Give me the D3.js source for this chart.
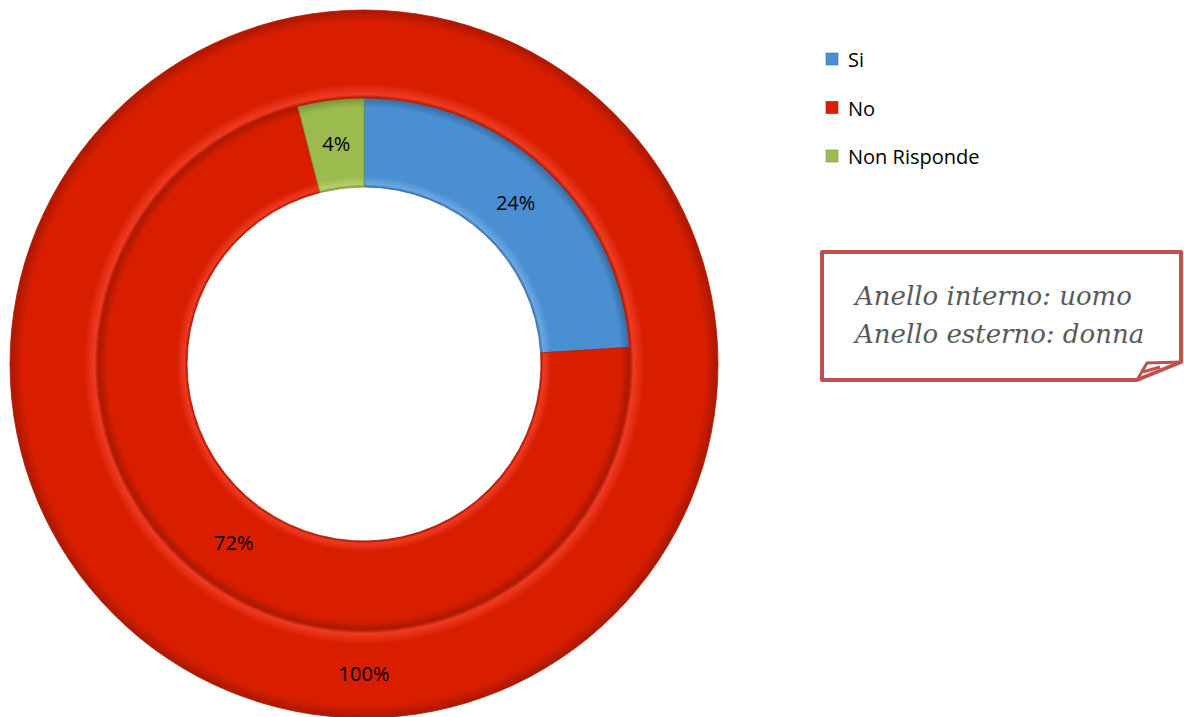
<!DOCTYPE html>
<html><head><meta charset="utf-8">
<script src="https://cdn.jsdelivr.net/npm/d3@7"></script>
<style>html,body{margin:0;padding:0;background:#fff;}svg{display:block;}</style>
</head><body>
<svg id="chart" width="1184" height="717"></svg>
<script>
const categories = ["Si", "No", "Non Risponde"];
const innerValues = [24, 72, 4];   // uomo
const outerValues = [0, 100, 0];   // donna
const colors = ["#4a8fd2", "#d91e00", "#9bbb4e"];
const darkColors = ["#3a70a8", "#b01800", "#7d983e"];
const lightColors = ["#6aa8e2", "#ee3b24", "#b6d06c"];
const noteLines = ["Anello interno: uomo", "Anello esterno: donna"];

const svg = d3.select("#chart");
const cx = 364, cy = 364;
const rings = [
  {values: innerValues, r0: 177, r1: 266, name: "in"},
  {values: outerValues, r0: 266, r1: 354, name: "out"}
];
const defs = svg.append("defs");
rings.forEach(rg => {
  colors.forEach((c, i) => {
    const g = defs.append("radialGradient").attr("id", `g-${rg.name}-${i}`)
      .attr("gradientUnits", "userSpaceOnUse").attr("cx", 0).attr("cy", 0).attr("r", rg.r1);
    const a = rg.r0 / rg.r1;
    const stops = [[0, darkColors[i]], [a, darkColors[i]], [a + 0.01, lightColors[i]], [a + 0.04, c], [0.965, c], [0.995, darkColors[i]], [1, darkColors[i]]];
    stops.forEach(s => g.append("stop").attr("offset", s[0]).attr("stop-color", s[1]));
  });
});

const pie = d3.pie().sort(null).value(d => d);
const g = svg.append("g").attr("transform", `translate(${cx},${cy})`);
rings.forEach(rg => {
  const arc = d3.arc().innerRadius(rg.r0).outerRadius(rg.r1);
  const arcs = pie(rg.values);
  g.selectAll(null).data(arcs.filter(d => d.value > 0)).enter().append("path")
    .attr("d", arc)
    .attr("fill", d => `url(#g-${rg.name}-${d.index})`)
    .attr("stroke", d => darkColors[d.index]).attr("stroke-width", 0.8);
});
rings.forEach(rg => {
  const arc = d3.arc().innerRadius(rg.r0).outerRadius(rg.r1);
  const arcs = pie(rg.values);
  const total = d3.sum(rg.values);
  g.selectAll(null).data(arcs.filter(d => d.value > 0)).enter().append("text")
    .attr("transform", d => `translate(${arc.centroid(d)})`)
    .attr("text-anchor", "middle").attr("dy", "0.35em")
    .attr("font-family", "Open Sans, sans-serif").attr("font-size", 20)
    .attr("fill", "#000")
    .text(d => Math.round(d.value / total * 100) + "%");
});

// Legend
const legend = svg.append("g").attr("transform", "translate(826,60)");
categories.forEach((c, i) => {
  const row = legend.append("g").attr("transform", `translate(0,${i * 48.5})`);
  row.append("rect").attr("x", 0).attr("y", -7).attr("width", 12).attr("height", 12)
    .attr("fill", colors[i]).attr("stroke", darkColors[i]).attr("stroke-width", 0.6);
  row.append("text").attr("x", 22).attr("y", 0).attr("dy", "0.35em")
    .attr("font-family", "Open Sans, sans-serif").attr("font-size", 20).attr("fill", "#000")
    .text(c);
});

// Callout
const note = svg.append("g");
note.append("path").attr("d", "M822,252 H1181 V362 L1137,380 H822 Z")
  .attr("fill", "#fff").attr("stroke", "#c0504d").attr("stroke-width", 4).attr("stroke-linejoin", "round");
note.append("path").attr("d", "M1137,380 L1147,363 L1181,362 M1143,372 L1160,367")
  .attr("fill", "none").attr("stroke", "#c0504d").attr("stroke-width", 3).attr("stroke-linejoin", "round");
noteLines.forEach((t, i) => {
  note.append("text").attr("x", 855).attr("y", 305 + i * 38)
    .attr("font-family", "DejaVu Serif, serif").attr("font-style", "italic")
    .attr("font-size", 26).attr("fill", "#595959").text(t);
});
</script>
</body></html>
